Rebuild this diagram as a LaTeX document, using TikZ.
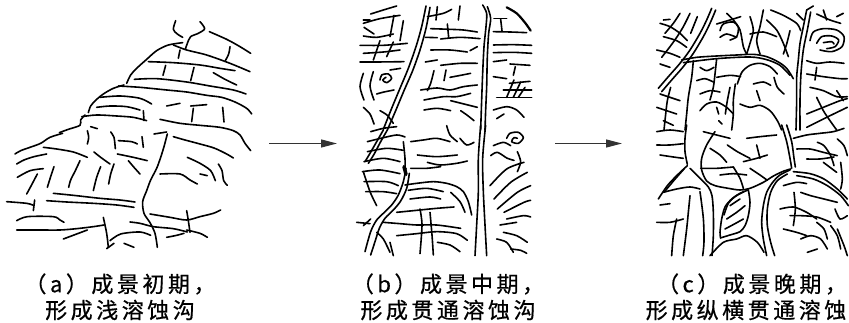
\documentclass[tikz,border=0pt]{standalone}
\usepackage{fontspec}
\newfontfamily\cjk[LetterSpace=16,FakeBold=0.6]{Noto Sans CJK SC}
\usetikzlibrary{arrows.meta}
\newcommand\skp[1]{\draw[sk] plot[smooth,tension=.5] coordinates{#1};}
\tikzset{
  sk/.style={line width=1.6pt,line cap=round,line join=round,black},
  arr/.style={line width=1.3pt,black!80,-{Triangle[length=16pt,width=8pt]}},
  captxt/.style={font=\cjk\fontsize{22}{26}\selectfont,inner sep=0pt,anchor=center}
}
\begin{document}
\begin{tikzpicture}[x=1pt,y=-1pt]
\useasboundingbox (0,0) rectangle (849,323);
\fill[white] (0,0) rectangle (849,323);
% ---------- panel (a)
\begin{scope}[scale=1/3]
\skp{(527,62) (520,88) (532,102) (548,112)}
\skp{(600,65) (614,86) (595,100) (572,110) (562,130) (556,148)}
\skp{(628,95) (680,118) (720,140) (752,160)}
\skp{(690,140) (686,162) (676,182)}
\skp{(548,128) (505,135) (470,152) (440,178) (410,205) (392,225) (380,250)}
\skp{(520,135) (560,150) (620,165) (690,190) (750,215)}
\skp{(445,185) (520,188) (600,195) (660,205) (705,212)}
\skp{(540,150) (535,175)}
\skp{(497,196) (489,226)}
\skp{(582,202) (572,242)}
\skp{(403,238) (470,236) (560,246) (630,258) (700,270) (738,282)}
\skp{(640,218) (675,238) (710,255)}
\skp{(372,255) (340,265) (310,282) (288,300) (272,318) (265,338)}
\skp{(355,258) (420,262) (500,270) (560,276) (620,286) (665,292) (705,306) (740,325) (755,342)}
\skp{(300,292) (360,288) (420,295) (455,312)}
\skp{(290,322) (330,318) (380,320) (420,330)}
\skp{(500,318) (540,310)}
\skp{(572,318) (620,314)}
\skp{(580,325) (575,365)}
\skp{(668,322) (672,366)}
\skp{(430,332) (432,362)}
\skp{(245,350) (290,345) (350,348) (400,352) (440,362)}
\skp{(480,358) (540,370) (600,376) (660,382) (700,392) (720,405) (735,430) (752,452)}
\skp{(255,345) (242,360) (240,376) (205,388) (178,398)}
\skp{(272,380) (292,386)}
\skp{(262,392) (266,412) (262,432)}
\skp{(332,396) (342,412) (346,446)}
\skp{(355,422) (395,425) (412,432)}
\skp{(426,410) (430,442)}
\skp{(462,402) (500,396)}
\skp{(502,402) (492,440) (482,472) (470,505) (452,540) (440,572) (428,605) (432,640) (450,668) (465,700) (472,742)}
\skp{(520,410) (555,420) (600,432) (642,444) (680,462) (700,474)}
\skp{(188,400) (150,412) (122,430) (90,442) (62,452) (45,462)}
\skp{(130,442) (170,447) (220,456) (262,472)}
\skp{(50,492) (72,480) (102,470) (140,462)}
\skp{(282,456) (302,472) (330,492)}
\skp{(352,462) (400,472) (442,482)}
\skp{(162,500) (152,530) (142,562)}
\skp{(240,482) (226,512) (212,540) (206,562)}
\skp{(302,500) (290,532) (280,572)}
\skp{(342,492) (332,522) (326,552)}
\skp{(385,482) (402,502) (420,522)}
\skp{(480,522) (540,522) (570,540) (592,552)}
\skp{(562,472) (600,490) (632,512) (646,542)}
\skp{(600,522) (622,527)}
\skp{(655,492) (666,512) (671,542) (682,556)}
\skp{(52,532) (90,512) (130,506)}
\skp{(112,522) (92,560) (80,582)}
\skp{(20,605) (80,610) (100,616)}
\skp{(160,580) (220,586) (300,595) (360,600) (405,606)}
\skp{(140,602) (200,606) (280,610) (350,615) (402,622)}
\skp{(104,600) (100,632)}
\skp{(50,662) (82,650) (160,650) (180,660) (192,667)}
\skp{(50,690) (120,690) (180,690) (230,686) (280,680) (312,675)}
\skp{(190,717) (230,702) (262,690)}
\skp{(310,652) (320,700) (325,742)}
\skp{(330,722) (362,702) (420,696) (452,706)}
\skp{(390,666) (420,670) (460,680) (520,686) (562,696)}
\skp{(450,642) (510,652) (560,660) (600,650) (640,640) (662,630)}
\skp{(560,632) (565,662) (570,697)}
\skp{(560,690) (600,700) (622,712)}
\skp{(500,712) (530,706) (552,700)}
\skp{(320,746) (342,730)}
\skp{(372,730) (402,742)}
\end{scope}
% ---------- panel (b) top
\begin{scope}[shift={(350,0)},scale=1/3]
\skp{(228,18) (215,80) (198,140) (175,205) (150,265) (125,325) (100,388)}
\skp{(240,22) (228,85) (210,150) (188,212) (162,272) (137,332) (112,390)}
\skp{(398,15) (410,40) (408,80) (402,140) (398,220) (395,300) (392,390)}
\skp{(412,20) (422,55) (416,100) (412,170) (410,260) (407,330) (405,390)}
\draw[sk,line width=2.2pt] plot[smooth] coordinates{(470,22) (500,40) (525,68) (542,92)};
\skp{(432,55) (470,55)}
\skp{(452,58) (456,92)}
\skp{(430,95) (480,96) (530,98)}
\skp{(430,135) (490,134) (545,136)}
\skp{(430,158) (490,157) (545,160)}
\skp{(430,185) (470,180)}
\skp{(480,192) (540,196)}
\skp{(496,200) (490,226)}
\skp{(430,230) (470,236)}
\skp{(478,250) (540,244)}
\skp{(492,240) (470,292)}
\skp{(512,246) (490,292)}
\skp{(525,262) (505,292)}
\skp{(460,270) (545,270)}
\skp{(440,292) (545,292)}
\skp{(430,330) (470,320) (500,330) (522,352)}
\skp{(440,356) (462,342)}
\skp{(232,50) (280,40) (305,28)}
\skp{(330,18) (325,60)}
\skp{(262,20) (258,60)}
\skp{(242,86) (300,88) (340,90) (382,96)}
\skp{(292,72) (296,112)}
\skp{(226,112) (262,113)}
\skp{(272,117) (330,112) (390,116)}
\skp{(242,150) (300,150) (352,156)}
\skp{(360,152) (382,140)}
\skp{(226,186) (262,180)}
\skp{(272,196) (330,190) (382,190)}
\skp{(288,210) (282,242)}
\skp{(252,212) (242,250) (232,272)}
\skp{(300,232) (332,226) (362,220)}
\skp{(212,270) (262,264) (300,270) (340,260) (382,255)}
\skp{(222,300) (280,290) (320,290) (362,280)}
\skp{(302,302) (342,312) (382,322)}
\skp{(222,330) (262,325) (302,332)}
\skp{(332,332) (352,346) (372,362)}
\skp{(62,42) (100,30) (140,18)}
\skp{(40,70) (90,56) (150,46)}
\skp{(42,82) (72,102)}
\skp{(132,46) (120,110)}
\skp{(160,62) (150,122)}
\skp{(40,108) (80,112) (130,102)}
\skp{(30,136) (100,136) (172,130)}
\skp{(40,160) (100,156) (150,150)}
\skp{(30,186) (80,186) (162,185)}
\skp{(90,122) (70,180)}
\skp{(130,126) (110,170)}
\skp{(60,60) (40,60)}
\skp{(40,220) (30,260) (42,300)}
\skp{(70,215) (60,258) (72,300)}
\skp{(90,240) (95,225) (115,222) (125,235) (110,248) (98,240) (108,232)}
\skp{(120,210) (152,205)}
\skp{(80,282) (102,276) (132,270)}
\skp{(40,322) (60,342) (72,372)}
\skp{(90,332) (112,346) (130,370)}
\end{scope}
% ---------- panel (b) bottom
\begin{scope}[shift={(350,125)},scale=1/3]
\skp{(100,15) (80,50) (60,85) (45,110)}
\skp{(112,15) (92,50) (72,88) (55,115)}
\skp{(168,130) (160,170) (145,210) (125,240) (100,265) (80,285) (62,320) (45,380)}
\skp{(178,145) (170,190) (152,228) (130,255) (105,280) (88,310) (75,350) (62,390)}
\draw[sk,line width=3.5pt] (162,125) -- (168,148);
\skp{(392,0) (385,100) (385,200) (380,300) (375,392)}
\skp{(407,0) (398,100) (400,200) (405,300) (410,392)}
\skp{(62,20) (100,10) (140,5)}
\skp{(52,50) (92,40) (140,30) (165,36)}
\skp{(52,80) (110,70) (160,76)}
\skp{(42,110) (100,100) (150,110)}
\skp{(37,140) (90,135) (150,146)}
\skp{(42,170) (110,170) (145,182)}
\skp{(47,200) (100,200) (140,206)}
\skp{(40,140) (60,200) (80,242)}
\skp{(160,50) (165,100) (165,128)}
\skp{(182,50) (220,45) (260,40) (300,50)}
\skp{(202,90) (260,95) (322,90)}
\skp{(232,112) (270,120) (320,115) (352,108)}
\skp{(182,130) (230,130) (272,125)}
\skp{(290,2) (300,30) (322,50)}
\skp{(330,40) (350,60) (372,52)}
\skp{(165,180) (200,175) (250,170) (290,175) (320,185) (340,200) (355,230) (365,270)}
\skp{(175,196) (230,190) (280,200)}
\skp{(180,222) (240,216) (272,222)}
\skp{(302,202) (330,230) (345,262)}
\skp{(140,262) (200,256) (260,250) (312,246)}
\skp{(100,292) (150,296) (200,300) (260,300) (332,310)}
\skp{(140,332) (200,326) (260,320) (320,326) (352,346)}
\skp{(80,322) (100,342) (120,382)}
\skp{(210,252) (216,300) (210,386)}
\skp{(240,262) (246,330) (250,390)}
\skp{(120,352) (130,392)}
\skp{(62,282) (40,302)}
\skp{(20,292) (60,296)}
\skp{(262,352) (300,360) (330,380)}
\skp{(470,40) (480,25) (505,22) (520,38) (505,55) (485,50) (492,38) (502,40)}
\skp{(430,62) (460,52) (482,62)}
\skp{(422,92) (442,82) (472,100) (492,106)}
\skp{(502,80) (512,110) (502,140)}
\skp{(420,182) (470,132) (522,112)}
\skp{(432,222) (482,172) (532,142)}
\skp{(442,252) (502,202) (542,182)}
\skp{(462,262) (522,232) (542,226)}
\skp{(470,282) (520,272) (542,276)}
\skp{(460,322) (500,332) (532,352)}
\skp{(440,342) (470,352) (490,382)}
\skp{(482,372) (512,376) (530,385)}
\skp{(450,300) (500,292)}
\end{scope}
% ---------- panel (c) top
\begin{scope}[shift={(650,0)},scale=1/3]
\skp{(185,25) (170,60) (150,100) (120,150) (90,190) (55,230) (25,265)}
\skp{(197,30) (180,70) (160,110) (130,160) (100,200) (65,240) (35,275)}
\skp{(30,70) (60,80) (90,100) (112,122)}
\skp{(40,110) (80,122) (110,142)}
\skp{(20,150) (60,160) (90,172)}
\skp{(30,192) (60,202)}
\skp{(90,40) (70,70) (45,100)}
\skp{(120,40) (100,80) (80,112) (60,140) (35,172)}
\skp{(142,50) (122,100)}
\skp{(60,58) (40,60)}
\skp{(95,180) (140,172) (200,168) (260,165) (310,163) (350,170) (385,186) (410,205) (430,236)}
\skp{(100,188) (200,176) (300,171) (350,179) (390,196) (420,226)}
\skp{(130,182) (125,232) (115,292) (110,342) (105,390)}
\skp{(30,282) (60,292) (90,302)}
\skp{(20,322) (50,332) (80,342)}
\skp{(40,362) (70,376)}
\skp{(62,262) (52,302) (46,352) (42,390)}
\skp{(200,176) (195,222) (190,262) (180,300)}
\skp{(150,202) (170,212) (192,202)}
\skp{(140,242) (165,236) (190,246)}
\skp{(200,232) (240,226) (272,230)}
\skp{(150,282) (180,272) (210,276)}
\skp{(240,262) (232,302) (226,342)}
\skp{(262,252) (276,216) (300,196) (330,190) (360,200) (382,222)}
\skp{(256,252) (250,300) (250,342) (245,390)}
\skp{(270,312) (300,322) (330,316) (360,332) (382,362) (395,390)}
\skp{(150,332) (170,312) (200,306) (230,322) (250,342)}
\skp{(200,322) (206,342)}
\skp{(206,362) (216,372)}
\skp{(310,252) (340,246) (362,256)}
\skp{(320,272) (330,302)}
\skp{(372,232) (382,262) (402,282)}
\skp{(230,40) (250,60) (270,90) (280,140) (290,162)}
\skp{(300,50) (310,90) (300,130) (290,162)}
\skp{(340,30) (330,80) (320,122) (330,162)}
\skp{(350,60) (380,90) (400,130) (415,170)}
\skp{(362,30) (400,46) (440,70) (452,92)}
\skp{(420,92) (410,132) (400,162)}
\skp{(300,102) (340,96) (380,110)}
\skp{(200,72) (240,60) (272,50)}
\skp{(210,112) (230,102) (260,112)}
\skp{(210,92) (220,72) (250,66) (265,82) (260,110) (240,120)}
\skp{(470,30) (460,80) (450,130) (445,180) (440,232) (440,300) (438,390)}
\skp{(482,36) (472,90) (460,150) (453,220) (450,300) (450,390)}
\skp{(470,30) (490,18)}
\skp{(460,60) (440,40)}
\skp{(480,122) (490,96) (520,86) (560,90) (582,110) (576,140) (545,155) (510,150)}
\skp{(500,130) (515,110) (545,108) (566,120) (555,140) (530,146)}
\skp{(520,128) (545,125) (552,132)}
\skp{(500,42) (540,60) (572,70)}
\skp{(520,30) (530,60)}
\skp{(560,50) (580,40)}
\skp{(470,182) (500,190) (540,186) (582,190)}
\skp{(470,222) (520,230) (570,236) (592,236)}
\skp{(500,202) (495,240)}
\skp{(480,262) (520,272) (560,290) (592,290)}
\skp{(470,342) (520,322) (570,302) (592,296)}
\skp{(470,382) (530,352) (592,322)}
\skp{(500,292) (520,332) (540,362) (560,390)}
\skp{(560,272) (580,302)}
\end{scope}
% ---------- panel (c) bottom
\begin{scope}[shift={(650,125)},scale=1/3]
\skp{(110,0) (105,40) (105,80) (112,118)}
\skp{(112,122) (82,150) (52,182) (25,222)}
\skp{(102,132) (72,166) (42,202)}
\skp{(120,130) (150,160) (175,186) (186,212) (190,262) (190,332) (186,392)}
\skp{(150,200) (160,280) (162,350) (158,392)}
\skp{(195,20) (170,60) (155,100) (155,135) (170,168) (195,182) (235,190) (270,195) (300,190) (340,172) (372,152) (402,138) (422,132)}
\skp{(160,20) (200,30) (240,40)}
\skp{(180,70) (210,90) (230,112)}
\skp{(232,60) (262,80) (300,100)}
\skp{(152,130) (200,130) (250,126)}
\skp{(250,126) (270,160) (280,190)}
\skp{(280,110) (320,100) (352,90)}
\skp{(210,150) (250,146) (290,150)}
\skp{(300,130) (330,150) (352,166)}
\skp{(290,40) (330,35) (380,30)}
\skp{(320,60) (330,100)}
\skp{(395,0) (410,50) (420,100) (425,130)}
\skp{(410,0) (425,50) (432,100) (436,126)}
\skp{(420,135) (390,150) (368,172) (350,202) (340,242) (335,292) (340,342) (350,392)}
\skp{(412,147) (382,167) (362,202) (352,252) (352,302) (362,352) (374,392)}
\skp{(430,140) (480,146) (522,162) (562,192) (592,222)}
\skp{(440,152) (490,162) (532,182) (572,212) (595,242)}
\skp{(295,195) (270,205) (245,222) (225,246) (215,282) (210,322) (212,340)}
\skp{(295,195) (300,232) (295,272) (285,302) (270,320) (240,330) (214,338)}
\skp{(282,200) (255,215) (235,235) (222,270)}
\skp{(240,242) (270,222)}
\skp{(230,282) (260,262) (285,242)}
\skp{(225,312) (255,296) (280,282)}
\skp{(180,392) (220,352) (260,342) (290,332) (322,352) (342,382)}
\skp{(20,20) (60,15) (100,20)}
\skp{(20,60) (60,60) (100,56)}
\skp{(30,90) (70,96) (100,100)}
\skp{(40,202) (80,192) (120,186) (150,192)}
\skp{(20,292) (60,292) (100,282)}
\skp{(30,240) (60,236)}
\skp{(120,212) (115,262) (110,312) (100,392)}
\skp{(80,282) (70,332) (65,392)}
\skp{(400,182) (440,172) (470,176)}
\skp{(432,202) (436,252) (430,302)}
\skp{(452,202) (482,212) (522,222) (562,232)}
\skp{(390,252) (430,246) (470,262) (500,282)}
\skp{(420,272) (452,272) (500,276) (542,292)}
\skp{(400,312) (440,322) (470,332)}
\skp{(452,342) (482,332) (512,342) (532,372)}
\skp{(500,292) (522,312) (532,342)}
\skp{(542,302) (562,332) (572,372)}
\skp{(562,312) (582,362) (592,392)}
\skp{(555,252) (570,282) (592,272)}
\skp{(472,382) (502,372)}
\skp{(430,40) (470,30) (510,25) (550,20) (582,10)}
\skp{(440,72) (480,72) (520,82) (562,92)}
\skp{(470,102) (510,102) (552,96)}
\skp{(502,52) (522,62) (542,92) (552,122)}
\skp{(562,42) (582,62) (592,92)}
\skp{(572,112) (577,162) (572,192)}
\skp{(520,112) (560,142)}
\end{scope}
% ---------- arrows
\coordinate (a1s) at (269,143.5);
\coordinate (a1e) at (337,143.5);
\coordinate (a2s) at (555,143.5);
\coordinate (a2e) at (622,143.5);
\draw[arr] (a1s) -- (a1e);
\draw[arr] (a2s) -- (a2e);
% ---------- captions
\node[captxt] (ca1) at (120,284) {（a）成景初期，};
\node[captxt] (ca2) at (120,310) {形成浅溶蚀沟};
\node[captxt] (cb1) at (448,284) {（b）成景中期，};
\node[captxt] (cb2) at (448,310) {形成贯通溶蚀沟};
\node[captxt] (cc1) at (752,284) {（c）成景晚期，};
\node[captxt] (cc2) at (746,310) {形成纵横贯通溶蚀};
\end{tikzpicture}
\end{document}
